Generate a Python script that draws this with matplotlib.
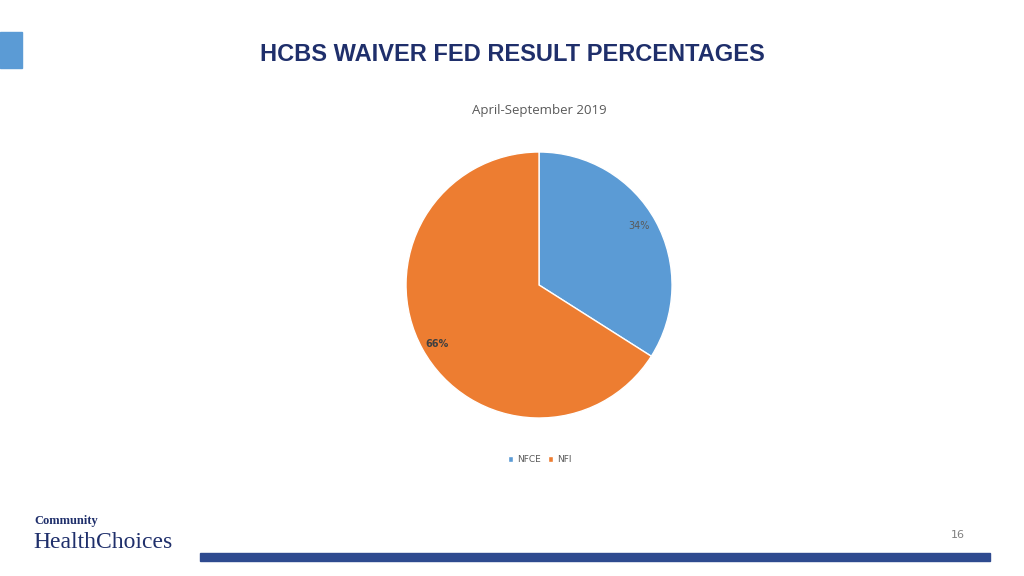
import matplotlib.pyplot as plt
from matplotlib.patches import Rectangle

labels = ["NFCE", "NFI"]
values = [34, 66]
pct_labels = ["34%", "66%"]
colors = ["#5B9BD5", "#ED7D31"]

fig = plt.figure(figsize=(10.24, 5.76), dpi=100)
fig.patch.set_facecolor("white")

# title and subtitle
fig.text(0.5, 0.905, "HCBS WAIVER FED RESULT PERCENTAGES", ha="center", va="center",
         fontsize=17, fontweight="bold", color="#1F2F6B", family="Liberation Sans")
fig.text(0.5265, 0.808, "April-September 2019", ha="center", va="center",
         fontsize=9.5, color="#595959", family="Open Sans")

# pie
ax = fig.add_axes([0.3965, 0.2743, 0.2598, 0.4618])
wedges, _ = ax.pie(values, colors=colors, startangle=90, counterclock=False,
                   wedgeprops=dict(edgecolor="white", linewidth=1))
ax.text(0.75, 0.44, pct_labels[0], ha="center", va="center", fontsize=7, color="#595959")
ax.text(-0.77, -0.44, pct_labels[1], ha="center", va="center", fontsize=7,
        color="#404040", fontweight="bold")
ax.set_xlim(-1, 1)
ax.set_ylim(-1, 1)
ax.set_aspect("equal")
ax.axis("off")

# legend
fig.legend(wedges, labels, loc="center", bbox_to_anchor=(0.527, 0.202), ncol=2,
           frameon=False, fontsize=6.5, handlelength=0.6, handleheight=0.6,
           columnspacing=0.8, handletextpad=0.4, labelcolor="#595959")

# decorations
fig.patches.append(Rectangle((0, 1 - 68 / 576), 22 / 1024, 36 / 576,
                             transform=fig.transFigure, color="#5B9BD5"))
fig.patches.append(Rectangle((200 / 1024, 1 - 561 / 576), 790 / 1024, 8 / 576,
                             transform=fig.transFigure, color="#2E4A8F"))
fig.text(958 / 1024, 1 - 535 / 576, "16", ha="center", va="center", fontsize=8, color="#7F7F7F")
fig.text(34 / 1024, 1 - 521 / 576, "Community", ha="left", va="center", fontsize=9,
         fontweight="bold", color="#1F2F6B", family="Liberation Serif")
fig.text(33 / 1024, 1 - 542 / 576, "HealthChoices", ha="left", va="center", fontsize=17,
         color="#1F2F6B", family="Liberation Serif")

fig.savefig("out.png", dpi=100)
